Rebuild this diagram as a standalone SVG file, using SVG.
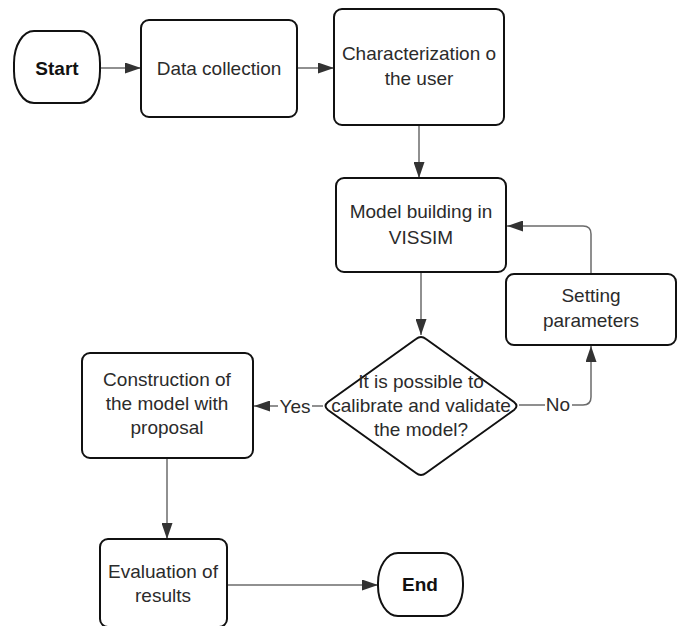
<svg xmlns="http://www.w3.org/2000/svg" width="681" height="626" viewBox="0 0 681 626">
  <defs>
    <marker id="arr" viewBox="0 0 16 11" refX="16" refY="5.5" markerWidth="16" markerHeight="11" markerUnits="userSpaceOnUse" orient="auto">
      <path d="M0,0 L16,5.5 L0,11 Z" fill="#333333"/>
    </marker>
    <style>
      .box { fill: #ffffff; stroke: #111111; stroke-width: 2; }
      .t { font-family: "Liberation Sans", Arial, sans-serif; font-size: 19px; fill: #2b2b2b; text-anchor: middle; }
      .b { font-weight: bold; fill: #111111; }
      .c { fill: none; stroke: #6b6b6b; stroke-width: 1.5; marker-end: url(#arr); }
      .lbl { font-family: "Liberation Sans", Arial, sans-serif; font-size: 19px; fill: #2b2b2b; text-anchor: middle; }
    </style>
  </defs>
  <rect width="681" height="626" fill="#ffffff"/>

  <g id="connectors">
    <path class="c" d="M100,68 L141,68"/>
    <path class="c" d="M297,68 L334,68"/>
    <path class="c" d="M419,125 L419,178"/>
    <path class="c" d="M421,272 L421,335"/>
    <path class="c" d="M591,274 L591,234 Q591,226 583,226 L507,226"/>
    <path class="c" d="M519,405 L583,405 Q591,405 591,397 L591,346"/>
    <path class="c" d="M323,406 L254,406"/>
    <path class="c" d="M167,458 L167,539"/>
    <path class="c" d="M227,585 L378,585"/>
    <rect x="278" y="395" width="34" height="22" fill="#ffffff"/>
    <text class="lbl" x="295" y="406" dy="0.35em">Yes</text>
    <rect x="545" y="394" width="27" height="22" fill="#ffffff"/>
    <text class="lbl" x="558" y="404" dy="0.35em">No</text>
  </g>

  <g id="start">
    <rect class="box" x="14" y="31" width="86" height="72" rx="20" ry="32"/>
    <text class="t b" x="57" y="68" dy="0.35em">Start</text>
  </g>

  <g id="data-collection">
    <rect class="box" x="141" y="20" width="156" height="97" rx="8"/>
    <text class="t" x="219" y="68" dy="0.35em">Data collection</text>
  </g>

  <g id="characterization">
    <rect class="box" x="334" y="9" width="170" height="116" rx="8"/>
    <text class="t" x="419" y="53" dy="0.35em">Characterization o</text>
    <text class="t" x="419" y="78" dy="0.35em">the user</text>
  </g>

  <g id="model-building">
    <rect class="box" x="336" y="178" width="170" height="94" rx="8"/>
    <text class="t" x="421" y="211" dy="0.35em">Model building in</text>
    <text class="t" x="421" y="237" dy="0.35em">VISSIM</text>
  </g>

  <g id="setting-parameters">
    <rect class="box" x="506" y="274" width="170" height="71" rx="8"/>
    <text class="t" x="591" y="295" dy="0.35em">Setting</text>
    <text class="t" x="591" y="320" dy="0.35em">parameters</text>
  </g>

  <g id="decision">
    <path class="box" d="M416,339 Q421,335 426,339 L514,402 Q519,406 514,410 L426,473 Q421,477 416,473 L328,410 Q323,406 328,402 Z" stroke-linejoin="round"/>
    <text class="t" x="421" y="381" dy="0.35em">It is possible to</text>
    <text class="t" x="421" y="405" dy="0.35em">calibrate and validate</text>
    <text class="t" x="421" y="429" dy="0.35em">the model?</text>
  </g>

  <g id="construction">
    <rect class="box" x="82" y="353" width="171" height="105" rx="8"/>
    <text class="t" x="167" y="379" dy="0.35em">Construction of</text>
    <text class="t" x="167" y="403" dy="0.35em">the model with</text>
    <text class="t" x="167" y="427" dy="0.35em">proposal</text>
  </g>

  <g id="evaluation">
    <rect class="box" x="100" y="539" width="127" height="88" rx="8"/>
    <text class="t" x="163" y="571" dy="0.35em">Evaluation of</text>
    <text class="t" x="163" y="595" dy="0.35em">results</text>
  </g>

  <g id="end">
    <rect class="box" x="378" y="553" width="85" height="63" rx="20" ry="30"/>
    <text class="t b" x="420" y="584" dy="0.35em">End</text>
  </g>
</svg>
